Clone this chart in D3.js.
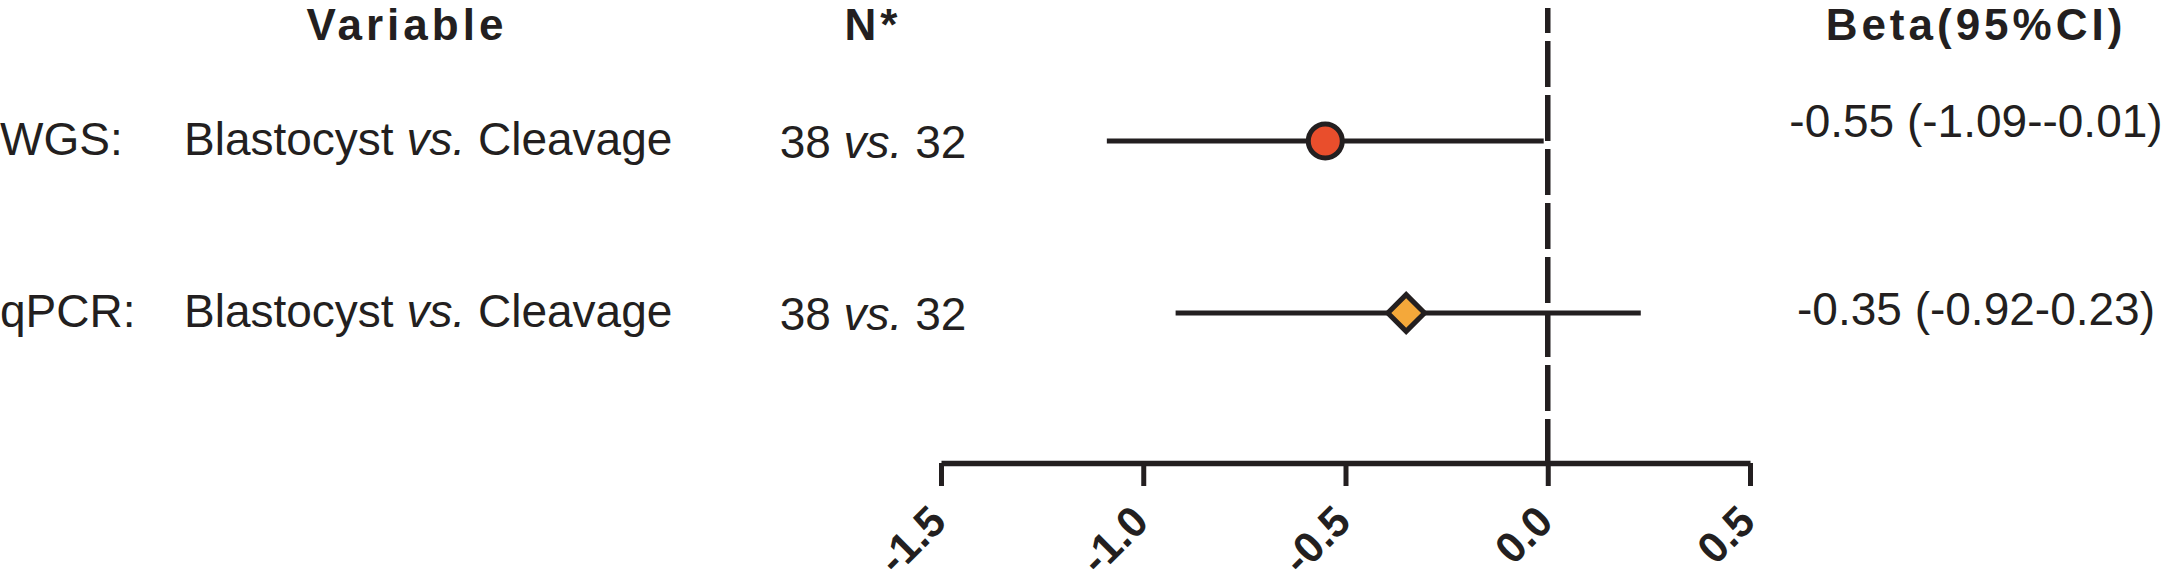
<!DOCTYPE html>
<html lang="en">
<head>
    <meta charset="UTF-8">
    <title>Forest Plot</title>
    <script src="https://d3js.org/d3.v7.min.js"></script>
    <style>
        body { margin: 0; background: #fff; }
        text { font-family: "Liberation Sans", Arial, Helvetica, sans-serif; fill: #231f20; }
    </style>
</head>
<body>
<div id="chart"></div>
<script>
    // Data
    var methods = ["WGS:", "qPCR:"];
    var groupA = ["Blastocyst", "Blastocyst"];
    var groupB = ["Cleavage", "Cleavage"];
    var nA = [38, 38];
    var nB = [32, 32];
    var beta = [-0.55, -0.35];
    var lower = [-1.09, -0.92];
    var upper = [-0.01, 0.23];
    var markerShapes = ["circle", "diamond"];
    var markerColors = ["#e94e2c", "#f4a83a"];
    var tickValues = [-1.5, -1.0, -0.5, 0.0, 0.5];

    var width = 2165, height = 587;
    var ink = "#231f20";

    var svg = d3.select("#chart")
                .append("svg")
                .attr("width", width)
                .attr("height", height);

    var x = d3.scaleLinear()
              .domain([-1.5, 0.5])
              .range([941, 1750]);

    var y = d3.scalePoint()
              .domain(methods)
              .range([141, 313]);

    // Column headers
    var headers = [["Variable", 407], ["N*", 873], ["Beta(95%CI)", 1976]];
    svg.selectAll(".header")
       .data(headers)
       .enter().append("text")
       .attr("class", "header")
       .attr("x", function(d) { return d[1]; })
       .attr("y", 40)
       .attr("text-anchor", "middle")
       .style("font-size", "44px")
       .style("font-weight", "bold")
       .style("letter-spacing", "4px")
       .text(function(d) { return d[0]; });

    // Zero line (dashed)
    svg.append("line")
       .attr("x1", x(0)).attr("x2", x(0))
       .attr("y1", 8).attr("y2", 463)
       .attr("stroke", ink)
       .attr("stroke-width", 5.5)
       .attr("stroke-dasharray", "46,8")
       .attr("stroke-dashoffset", 21);

    // Axis
    var xAxis = d3.axisBottom(x)
                  .tickValues(tickValues)
                  .tickFormat(function(d) { return d.toFixed(1); })
                  .tickSize(23)
                  .tickSizeOuter(0);

    var axisG = svg.append("g")
                   .attr("transform", "translate(0,463)")
                   .call(xAxis);
    axisG.select(".domain").attr("stroke", ink).attr("stroke-width", 5.5);
    axisG.selectAll(".tick line").attr("stroke", ink).attr("stroke-width", 5);
    axisG.selectAll(".tick text")
         .attr("text-anchor", "end")
         .attr("y", 0)
         .attr("dy", 0)
         .attr("transform", "translate(7,61) rotate(-45)")
         .style("font-size", "43px")
         .style("font-weight", "bold")
         .style("font-family", "'Liberation Sans', Arial, sans-serif")
         .attr("fill", ink);

    // Rows
    var rows = svg.selectAll(".row")
                  .data(methods)
                  .enter().append("g")
                  .attr("class", "row");

    rows.append("text")
        .attr("x", 0)
        .attr("y", function(d) { return y(d) + 14; })
        .style("font-size", "46px")
        .text(function(d) { return d; });

    var comp = rows.append("text")
        .attr("x", 184)
        .attr("y", function(d) { return y(d) + 14; })
        .style("font-size", "46px");
    comp.append("tspan").text(function(d, i) { return groupA[i] + " "; });
    comp.append("tspan").style("font-style", "italic").text("vs.");
    comp.append("tspan").text(function(d, i) { return " " + groupB[i]; });

    var nText = rows.append("text")
        .attr("x", 873)
        .attr("y", function(d) { return y(d) + 17; })
        .attr("text-anchor", "middle")
        .style("font-size", "46px");
    nText.append("tspan").text(function(d, i) { return nA[i] + " "; });
    nText.append("tspan").style("font-style", "italic").text("vs.");
    nText.append("tspan").text(function(d, i) { return " " + nB[i]; });

    var betaShift = [-4, 12];
    rows.append("text")
        .attr("x", 1976)
        .attr("y", function(d, i) { return y(d) + betaShift[i]; })
        .attr("text-anchor", "middle")
        .style("font-size", "46px")
        .text(function(d, i) {
            return beta[i].toFixed(2) + " (" + lower[i].toFixed(2) + "-" + upper[i].toFixed(2) + ")";
        });

    // Confidence interval lines
    rows.append("line")
        .attr("x1", function(d, i) { return x(lower[i]); })
        .attr("x2", function(d, i) { return x(upper[i]); })
        .attr("y1", function(d) { return y(d); })
        .attr("y2", function(d) { return y(d); })
        .attr("stroke", ink)
        .attr("stroke-width", 5);

    // Point markers
    rows.append("path")
        .attr("d", function(d, i) {
            var type = markerShapes[i] === "circle" ? d3.symbolCircle : d3.symbolSquare;
            var size = markerShapes[i] === "circle" ? Math.PI * 17 * 17 : 26 * 26;
            return d3.symbol().type(type).size(size)();
        })
        .attr("transform", function(d, i) {
            var t = "translate(" + x(beta[i]) + "," + y(d) + ")";
            return markerShapes[i] === "diamond" ? t + " rotate(45)" : t;
        })
        .attr("fill", function(d, i) { return markerColors[i]; })
        .attr("stroke", ink)
        .attr("stroke-width", 5);
</script>
</body>
</html>
